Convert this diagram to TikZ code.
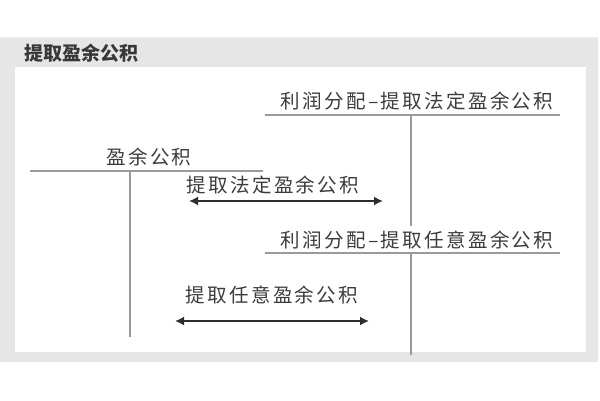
\documentclass[tikz,border=0pt]{standalone}
\usepackage{fontspec}
\setmainfont{Liberation Sans}
\newfontfamily\cjk{Noto Sans CJK SC}
\newfontfamily\cjkspaced[LetterSpace=12]{Noto Sans CJK SC}
\usetikzlibrary{arrows.meta}
\definecolor{txt}{HTML}{3C3C3C}
\definecolor{ruleg}{HTML}{9A9A9A}
\definecolor{panel}{HTML}{E6E6E6}
\definecolor{arr}{HTML}{2E2E2E}
\tikzset{
  lbl/.style={text=txt, inner sep=0pt, font=\cjkspaced\fontsize{19.5}{22}\selectfont},
  acct/.style={draw=ruleg, line width=1.5pt},
  flow/.style={draw=arr, line width=2pt, {Latex[length=9pt,width=9pt]}-{Latex[length=9pt,width=9pt]}},
}
\begin{document}
\begin{tikzpicture}[x=1pt,y=-1pt]
\useasboundingbox (0,0) rectangle (600,400);
\fill[white] (0,0) rectangle (600,400);
% panel
\fill[panel] (0,37) rectangle (598,362);
\draw[white!85!gray, line width=0.6pt] (0,37) -- (598,37);
\fill[white] (15,67) rectangle (586,352);
\node[anchor=west, text=black!78, inner sep=0pt, font=\cjk\bfseries\fontsize{19}{22}\selectfont] (title) at (24,53) {提取盈余公积};
% account 1
\coordinate (a1l) at (30,171); \coordinate (a1r) at (263,171);
\coordinate (a1t) at (130,171); \coordinate (a1b) at (130,337);
\draw[acct] (a1l) -- (a1r);
\draw[acct] (a1t) -- (a1b);
\node[lbl] (n1) at (149,157) {盈余公积};
% account 2
\coordinate (a2l) at (265,115); \coordinate (a2r) at (560,115);
\coordinate (a2t) at (411,115); \coordinate (a2b) at (411,226);
\draw[acct] (a2l) -- (a2r);
\draw[acct] (a2t) -- (a2b);
\node[lbl] (n2) at (417,101) {利润分配–提取法定盈余公积};
% account 3
\coordinate (a3l) at (265,253); \coordinate (a3r) at (560,253);
\coordinate (a3t) at (411,253); \coordinate (a3b) at (411,355);
\draw[acct] (a3l) -- (a3r);
\draw[acct] (a3t) -- (a3b);
\node[lbl] (n3) at (417,240) {利润分配–提取任意盈余公积};
% flows
\node[lbl] (f1) at (273,185) {提取法定盈余公积};
\coordinate (f1a) at (189,201); \coordinate (f1b) at (383,201);
\draw[flow] (f1a) -- (f1b);
\node[lbl] (f2) at (272,295) {提取任意盈余公积};
\coordinate (f2a) at (175,321); \coordinate (f2b) at (369,321);
\draw[flow] (f2a) -- (f2b);
\end{tikzpicture}
\end{document}
